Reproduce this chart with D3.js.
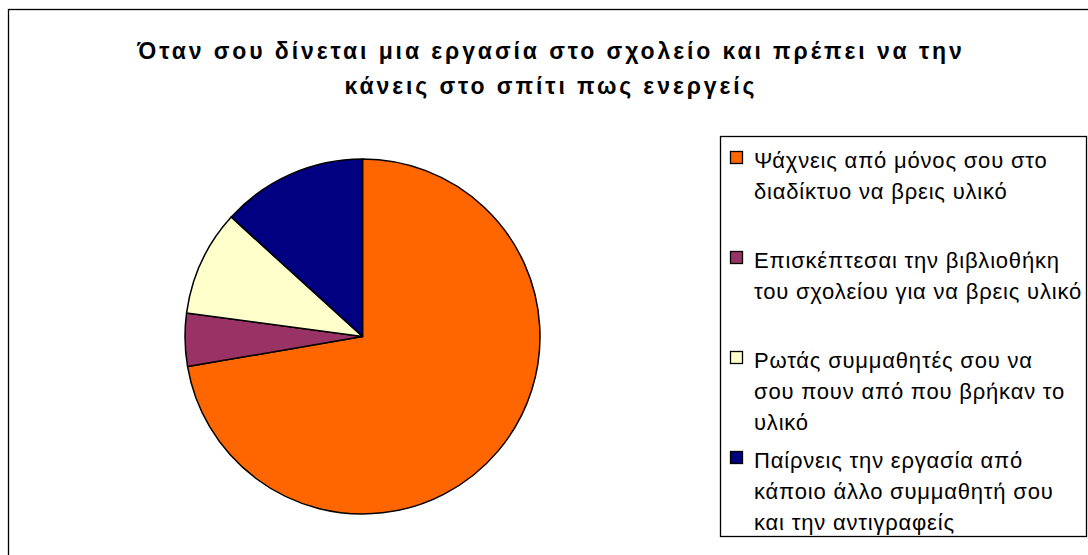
<!DOCTYPE html>
<html>
<head>
<meta charset="utf-8">
<script src="https://cdn.jsdelivr.net/npm/d3@7"></script>
<style>
  html, body { margin: 0; padding: 0; background: #fff; }
  svg { display: block; }
</style>
</head>
<body>
<svg id="chart" width="1088" height="555"></svg>
<script>
// Survey answers: how pupils handle a homework project
const categories = [
  ["Ψάχνεις από μόνος σου στο", "διαδίκτυο να βρεις υλικό"],
  ["Επισκέπτεσαι την βιβλιοθήκη", "του σχολείου για να βρεις υλικό"],
  ["Ρωτάς συμμαθητές σου να", "σου πουν από που βρήκαν το", "υλικό"],
  ["Παίρνεις την εργασία από", "κάποιο άλλο συμμαθητή σου", "και την αντιγραφείς"]
];
const values = [60, 4, 8, 11];
const colors = ["#FF6600", "#993366", "#FFFFCC", "#000080"];
const titleLines = [
  "Όταν σου δίνεται μια εργασία στο σχολείο και πρέπει να την",
  "κάνεις στο σπίτι πως ενεργείς"
];

const svg = d3.select("#chart");

// outer chart frame (runs past the right and bottom edges)
svg.append("rect")
  .attr("x", 8.5).attr("y", 9.5)
  .attr("width", 1100).attr("height", 570)
  .attr("fill", "#fff").attr("stroke", "#000").attr("stroke-width", 1.3);

// title
svg.append("g").selectAll("text")
  .data(titleLines)
  .join("text")
  .attr("x", 551)
  .attr("y", (d, i) => 59 + i * 35)
  .attr("text-anchor", "middle")
  .attr("font-family", "'Liberation Sans', Arial, sans-serif")
  .attr("font-weight", "bold")
  .attr("font-size", 23)
  .attr("letter-spacing", 2.9)
  .attr("fill", "#000")
  .text(d => d);

// pie
const cx = 362.5, cy = 336.5, r = 177.5;
const pie = d3.pie().sort(null).value(d => d)(values);
const arc = d3.arc().innerRadius(0).outerRadius(r);
const color = d3.scaleOrdinal().domain(d3.range(values.length)).range(colors);

svg.append("g")
  .attr("transform", `translate(${cx},${cy})`)
  .selectAll("path")
  .data(pie)
  .join("path")
  .attr("d", arc)
  .attr("fill", (d, i) => color(i))
  .attr("stroke", "#000")
  .attr("stroke-width", 1.5)
  .attr("stroke-linejoin", "round");

// legend
const lg = svg.append("g");
lg.append("rect")
  .attr("x", 720.5).attr("y", 136.5)
  .attr("width", 366).attr("height", 400)
  .attr("fill", "#fff").attr("stroke", "#000").attr("stroke-width", 1.3);

const entryY = d3.scalePoint().domain(d3.range(categories.length)).range([167.5, 467.5]);
const lineH = 31;

const items = lg.selectAll("g.item")
  .data(categories)
  .join("g")
  .attr("class", "item")
  .attr("transform", (d, i) => `translate(0,${entryY(i)})`);

items.append("rect")
  .attr("x", 730.5).attr("y", -16)
  .attr("width", 12).attr("height", 12)
  .attr("fill", (d, i) => color(i))
  .attr("stroke", "#000").attr("stroke-width", 1.3);

items.append("text")
  .attr("font-family", "'Liberation Sans', Arial, sans-serif")
  .attr("font-size", 22)
  .attr("letter-spacing", 0.8)
  .attr("fill", "#000")
  .selectAll("tspan")
  .data(d => d)
  .join("tspan")
  .attr("x", 754)
  .attr("y", (d, i) => i * lineH)
  .text(d => d);
</script>
</body>
</html>
